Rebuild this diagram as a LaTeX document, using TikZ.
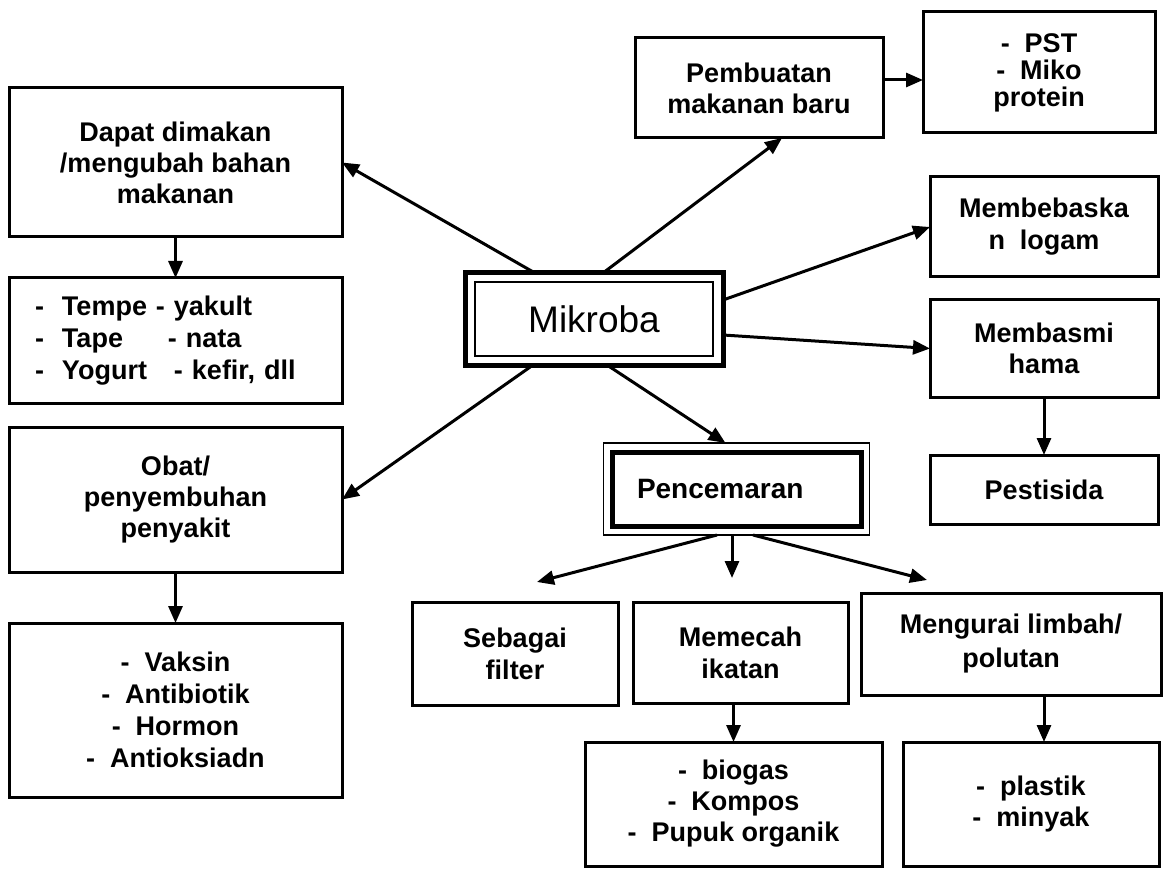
\documentclass[tikz,border=0pt]{standalone}
\usepackage{fontspec}
\setmainfont{Liberation Sans}
\usetikzlibrary{arrows.meta, calc, positioning, fit}

\tikzset{
  box/.style={draw, line width=3pt, outer sep=0pt, inner sep=0pt, align=center,
    font=\bfseries\fontsize{27}{31}\selectfont},
  link/.style={line width=3pt, -{Triangle[length=17pt,width=14pt]}},
}

\begin{document}
\begin{tikzpicture}[x=1pt, y=-1pt]
\useasboundingbox (0,0) rectangle (1168,869);

% Centre
\node[draw, line width=1.5pt, outer sep=0pt, minimum width=238, minimum height=74,
  font=\fontsize{37}{44}\selectfont] (mik) at (594,319) {Mikroba};
\node[fit=(mik), draw, line width=5pt, inner xsep=10pt, inner ysep=9pt, outer sep=0pt] (mikroba) {};

% Left column
\node[box, minimum width=333, minimum height=149] (dapat) at (175.5,162.5) {Dapat dimakan\\/mengubah bahan\\makanan};
\node[box, text width=281, inner xsep=26pt, minimum height=125, align=left,
  font=\bfseries\fontsize{27}{32}\selectfont] (tempe) at (175.5,340.5)
  {\makebox[121pt][l]{-\ \ Tempe}- yakult\\\makebox[133pt][l]{-\ \ Tape}- nata\\\makebox[139pt][l]{-\ \ Yogurt}- kefir, dll};
\node[box, minimum width=333, minimum height=145] (obat) at (175.5,499.5) {Obat/\\penyembuhan\\penyakit};
\node[box, minimum width=333, minimum height=174, font=\bfseries\fontsize{27}{32}\selectfont] (vaksin) at (175.5,710)
  {-\ \ Vaksin\\-\ \ Antibiotik\\-\ \ Hormon\\-\ \ Antioksiadn};

% Top and right column
\node[box, minimum width=248, minimum height=100] (pembuatan) at (759,88) {Pembuatan\\makanan baru};
\node[box, minimum width=232, minimum height=121, font=\bfseries\fontsize{27}{27}\selectfont] (pst) at (1039,72.5)
  {-\ \ PST\\-\ \ Miko\\protein};
\node[box, minimum width=228, minimum height=100, font=\bfseries\fontsize{27}{32}\selectfont] (bebas) at (1044,227) {Membebaska\\n\ \ logam};
\node[box, minimum width=228, minimum height=97] (basmi) at (1044,348.5) {Membasmi\\hama};
\node[box, minimum width=228, minimum height=69] (pestisida) at (1044,489.5) {Pestisida};

% Pencemaran
\node[box, line width=5pt, text width=199, inner xsep=25pt, minimum height=74, align=left,
  font=\bfseries\fontsize{28}{32}\selectfont] (cemar) at (736.5,489) {Pencemaran};
\node[fit=(cemar), draw, line width=1.5pt, inner xsep=8.5pt, inner ysep=9pt, outer sep=0pt] (cemarframe) {};

% Bottom row
\node[box, minimum width=206, minimum height=103, font=\bfseries\fontsize{27}{32}\selectfont] (filter) at (515,653.5) {Sebagai\\filter};
\node[box, minimum width=215, minimum height=101, font=\bfseries\fontsize{27}{32}\selectfont] (pecah) at (740.5,652.5) {Memecah\\ikatan};
\node[box, minimum width=300, minimum height=102, font=\bfseries\fontsize{27}{34}\selectfont] (urai) at (1011,644) {Mengurai limbah/\\polutan};
\node[box, minimum width=297, minimum height=124] (biogas) at (733.5,804) {-\ \ biogas\\-\ \ Kompos\\-\ \ Pupuk organik};
\node[box, minimum width=256, minimum height=124] (plastik) at (1031,804) {-\ \ plastik\\-\ \ minyak};

% Free arrow ends below Pencemaran
\coordinate (tipfilter) at (537,582);
\coordinate (tippecah) at (732,578);
\coordinate (tipurai) at (927,580);

% Connectors
\draw[link] ([xshift=-59pt]mikroba.north) -- (dapat.east);
\draw[link] ([xshift=-61pt]mikroba.south) -- (obat.east);
\draw[link] ([xshift=9pt]mikroba.north) -- ([xshift=23pt]pembuatan.south);
\draw[link] ([yshift=19pt]mikroba.east) -- (bebas.west);
\draw[link] ([yshift=-16pt]mikroba.east) -- (basmi.west);
\draw[link] ([xshift=13pt]mikroba.south) -- ([xshift=-11pt]cemarframe.north);

\draw[link] (dapat.south) -- (tempe.north);
\draw[link] (obat.south) -- (vaksin.north);
\draw[link] ([yshift=8pt]pembuatan.east) -- ([yshift=8pt]pembuatan.east -| pst.west);
\draw[link] (basmi.south) -- (pestisida.north);

\draw[link] ([xshift=-19.5pt]cemarframe.south) -- (tipfilter);
\draw[link] ([xshift=-4.5pt]cemarframe.south) -- (tippecah);
\draw[link] ([xshift=16.5pt]cemarframe.south) -- (tipurai);

\draw[link] (pecah.south -| biogas.north) -- (biogas.north);
\draw[link] ([xshift=33pt]urai.south) -- ([xshift=33pt]urai.south |- plastik.north);
\end{tikzpicture}
\end{document}
